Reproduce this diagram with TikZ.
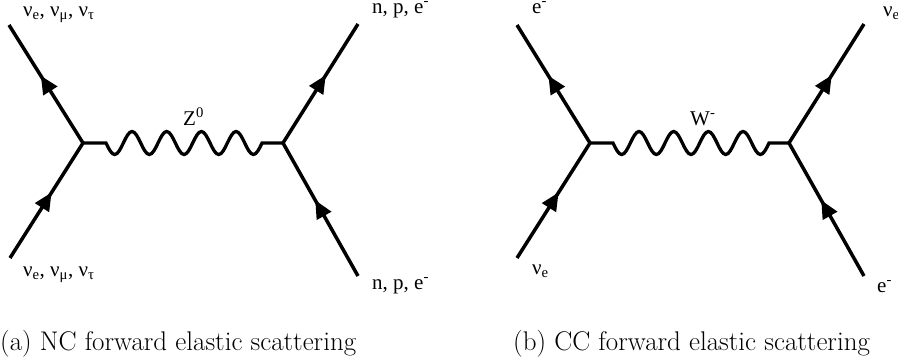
\documentclass[tikz,border=0pt]{standalone}
\usepackage{fontspec}
\newfontfamily\lblfont{Liberation Serif}
\usetikzlibrary{arrows.meta, decorations.markings}

\begin{document}
\begin{tikzpicture}[x=1pt, y=1pt,
    fermion/.style={line width=3.5pt, postaction={decorate},
      decoration={markings, mark=at position 0.57 with {\arrow{Triangle[length=18pt, width=16pt]}}}},
    boson/.style={line width=3.3pt},
    lbl/.style={font=\lblfont\fontsize{21}{25}\selectfont, inner sep=0pt, anchor=base west},
    subcap/.style={font=\fontsize{27}{32}\selectfont, inner sep=0pt, anchor=base west}]
    \useasboundingbox (0,0) rectangle (898,360);
    % (a) neutral current
    \coordinate (nc-v1) at (83,217);
    \coordinate (nc-v2) at (283,217);
    \coordinate (nc-nuin) at (10,102);
    \coordinate (nc-nuout) at (9,335);
    \coordinate (nc-fin) at (358,84);
    \coordinate (nc-fout) at (358,336);
    \draw[fermion] (nc-nuin) -- (nc-v1);
    \draw[fermion] (nc-v1) -- (nc-nuout);
    \draw[fermion] (nc-fin) -- (nc-v2);
    \draw[fermion] (nc-v2) -- (nc-fout);
    \draw[boson] (nc-v1) -- ++(23,0)
        \foreach \k in {1,...,4} {sin ++(8.67,-11.5) cos ++(8.67,11.5) sin ++(8.67,11.5) cos ++(8.67,-11.5)}
        sin ++(8.67,-11.5) cos ++(8.67,11.5) -- (nc-v2);
    \node[lbl] (nc-nuout-lbl) at (23,344) {ν\textsubscript{e}, ν\textsubscript{μ}, ν\textsubscript{τ}};
    \node[lbl] (nc-nuin-lbl) at (23,84) {ν\textsubscript{e}, ν\textsubscript{μ}, ν\textsubscript{τ}};
    \node[lbl] (nc-fout-lbl) at (372,347) {n, p, e\textsuperscript{-}};
    \node[lbl] (nc-fin-lbl) at (372,71) {n, p, e\textsuperscript{-}};
    \node[lbl] (nc-z) at (183,235) {Z\textsuperscript{0}};
    \node[subcap] (nc-cap) at (0,10) {(a) NC forward elastic scattering};
    % (b) charged current
    \coordinate (cc-v1) at (590,217);
    \coordinate (cc-v2) at (789,217);
    \coordinate (cc-nuin) at (517,102);
    \coordinate (cc-eout) at (517,335);
    \coordinate (cc-ein) at (864,84);
    \coordinate (cc-nuout) at (864,336);
    \draw[fermion] (cc-nuin) -- (cc-v1);
    \draw[fermion] (cc-v1) -- (cc-eout);
    \draw[fermion] (cc-ein) -- (cc-v2);
    \draw[fermion] (cc-v2) -- (cc-nuout);
    \draw[boson] (cc-v1) -- ++(23,0)
        \foreach \k in {1,...,4} {sin ++(8.67,-11.5) cos ++(8.67,11.5) sin ++(8.67,11.5) cos ++(8.67,-11.5)}
        sin ++(8.67,-11.5) cos ++(8.67,11.5) -- (cc-v2);
    \node[lbl] (cc-eout-lbl) at (532,347) {e\textsuperscript{-}};
    \node[lbl] (cc-nuin-lbl) at (532,86) {ν\textsubscript{e}};
    \node[lbl] (cc-nuout-lbl) at (883,344) {ν\textsubscript{e}};
    \node[lbl] (cc-ein-lbl) at (877,68) {e\textsuperscript{-}};
    \node[lbl] (cc-w) at (690,235) {W\textsuperscript{-}};
    \node[subcap] (cc-cap) at (513,10) {(b) CC forward elastic scattering};
\end{tikzpicture}
\end{document}
